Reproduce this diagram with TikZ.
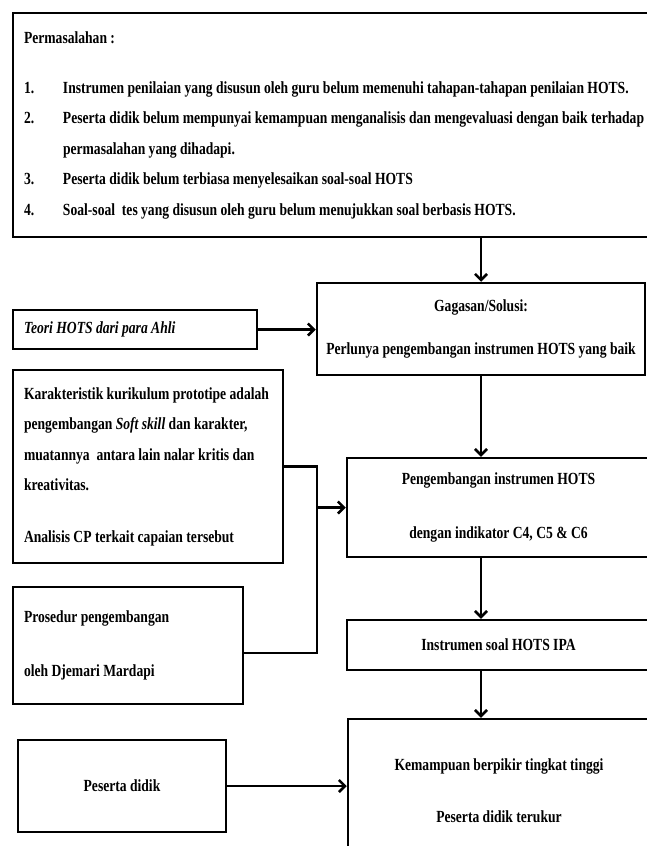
\documentclass[tikz,border=0pt]{standalone}
\usepackage{fontspec}
\setmainfont{Liberation Serif}[FakeStretch=0.80]
\usepackage{xcolor}
\definecolor{hotsInk}{HTML}{000000}
\definecolor{hotsPaper}{HTML}{FFFFFF}
\usepackage{tikz}
\usetikzlibrary{arrows.meta,positioning,calc}
\DeclareRobustCommand{\hotsfont}{\fontsize{17}{30.5}\selectfont\bfseries\spaceskip=3.4pt plus 0.5pt minus 0.5pt\relax}
\tikzset{
    box/.style={
        draw=hotsInk,
        rectangle,
        line width=2.5pt,
        inner xsep=11pt,
        inner ysep=0pt,
        align=flush left,
        text=hotsInk,
        font=\hotsfont
    },
    centerbox/.style={
        box,
        inner xsep=2pt,
        align=center
    },
    arrow/.style={
        ->,
        >={Straight Barb[length=6pt,width=12pt]},
        line width=2.5pt,
        color=hotsInk
    },
    link/.style={
        line width=2.5pt,
        color=hotsInk
    }
}
\newcommand{\itemline}[2]{\mbox{\makebox[39pt][l]{#1}#2}}

\begin{document}
\begin{tikzpicture}[x=1pt,y=-1pt]
    \path[use as bounding box, fill=hotsPaper] (0,0) rectangle (646,846);

    % problem statement
    \node[box, minimum width=647pt, minimum height=224pt, text width=625pt] (masalah) at (336.5,125) {%
        Permasalahan :\\[19.5pt]
        \itemline{1.}{Instrumen penilaian yang disusun oleh guru belum memenuhi tahapan-tahapan penilaian HOTS.}\\
        \itemline{2.}{Peserta didik belum mempunyai kemampuan menganalisis dan mengevaluasi dengan baik terhadap}\\
        \itemline{}{permasalahan yang dihadapi.}\\
        \itemline{3.}{Peserta didik belum terbiasa menyelesaikan soal-soal HOTS}\\
        \itemline{4.}{Soal-soal\ \ tes yang disusun oleh guru belum menujukkan soal berbasis HOTS.}};

    % main column
    \node[centerbox, minimum width=328pt, minimum height=92pt] (gagasan) at (481,329) {Gagasan/Solusi:\\[12.5pt]Perlunya pengembangan instrumen HOTS yang baik};
    \node[centerbox, minimum width=303pt, minimum height=99pt] (pengembangan) at (498.5,507.5) {Pengembangan instrumen HOTS\\[23.5pt]dengan indikator C4, C5 \& C6};
    \node[centerbox, minimum width=303pt, minimum height=50pt] (instrumen) at (498.5,645) {Instrumen soal HOTS IPA};
    \node[centerbox, minimum width=302pt, minimum height=143pt] (kemampuan) at (499,790.5) {Kemampuan berpikir tingkat tinggi\\[21.5pt]Peserta didik terukur};

    % inputs on the left
    \node[box, minimum width=244pt, minimum height=39pt, text width=222pt] (teori) at (135,329.5) {\itshape Teori HOTS dari para Ahli};
    \node[box, minimum width=270pt, minimum height=193pt, text width=248pt] (kurikulum) at (148,466.5) {%
        \mbox{Karakteristik kurikulum prototipe adalah}\\
        \mbox{pengembangan \textit{Soft skill} dan karakter,}\\
        \mbox{muatannya\ \ antara lain nalar kritis dan}\\
        kreativitas.\\[21pt]
        \mbox{Analisis CP terkait capaian tersebut}};
    \node[box, minimum width=230pt, minimum height=117pt, text width=208pt] (prosedur) at (128,645.5) {Prosedur pengembangan\\[23.5pt]oleh Djemari Mardapi};
    \node[centerbox, minimum width=208pt, minimum height=92pt] (peserta) at (122,786) {Peserta didik};

    \coordinate (hub) at (317,507.5);

    \draw[arrow] (masalah.south -| gagasan.north) -- (gagasan.north);
    \draw[arrow] (teori.east) -- (teori.east -| gagasan.west);
    \draw[arrow] (gagasan.south) -- (gagasan.south |- pengembangan.north);
    \draw[link] (kurikulum.east) -| (hub) |- ([yshift=-7.5pt]prosedur.east);
    \draw[arrow] (hub) -- (pengembangan.west);
    \draw[arrow] (pengembangan.south -| gagasan.south) -- (instrumen.north -| gagasan.south);
    \draw[arrow] (instrumen.south -| gagasan.south) -- (kemampuan.north -| gagasan.south);
    \draw[arrow] (peserta.east) -- (peserta.east -| kemampuan.west);
\end{tikzpicture}
\end{document}
